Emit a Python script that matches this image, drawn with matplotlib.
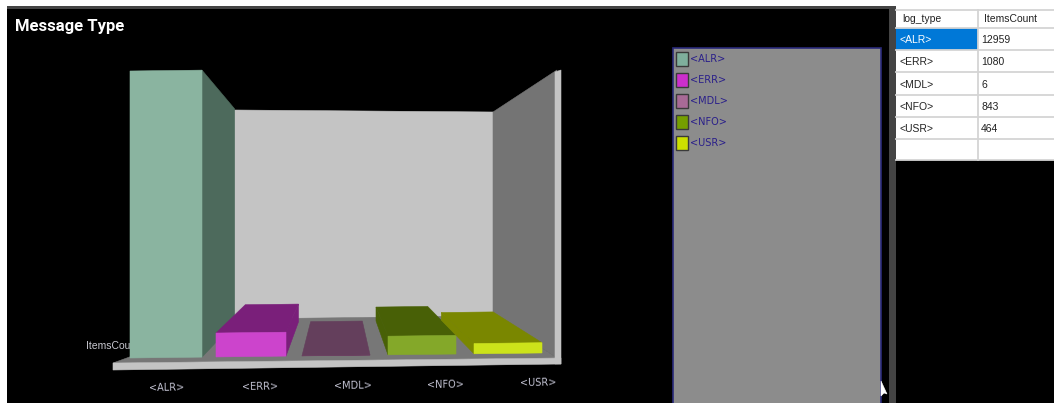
import matplotlib
matplotlib.use("Agg")

import matplotlib.pyplot as plt
from matplotlib.patches import Polygon, Rectangle

log_types = ["<ALR>", "<ERR>", "<MDL>", "<NFO>", "<USR>"]
items_count = [12959, 1080, 6, 843, 464]

front_colors = ["#8AB4A0", "#CC44CC", "#6A4060", "#84A829", "#CCE31A"]
top_colors = ["#8AB4A0", "#7A1F7A", "#643F5C", "#486006", "#7A8700"]
side_colors = ["#4D6A5C", "#7A1F7A", "#643F5C", "#486006", "#7A8700"]
legend_colors = ["#7FAF9C", "#CC2ECC", "#A86A96", "#759F00", "#CCE000"]

# pseudo-3D layout of the bars, in figure pixels
PX_PER_ITEM = 287 / 12959
BAR_LEFT = 130
BAR_STEP = 86
BAR_WIDTH = 72
BASE_Y = 358
TILT = -0.0122
VANISH_X, VANISH_Y = 338, 222
DEPTH_X, DEPTH_Y = 0.76, 0.745


def project(x, value, back=False):
    """Front-face position of (x, value), pushed to the back plane if asked."""
    y = BASE_Y + TILT * (x - BAR_LEFT) - value * PX_PER_ITEM
    if back:
        x = VANISH_X + (x - VANISH_X) * DEPTH_X
        y = VANISH_Y + (y - VANISH_Y) * DEPTH_Y
    return x, y


def poly(ax, pts, color, z=2):
    # edge in the face colour closes the hairline seams between faces
    ax.add_patch(Polygon(pts, closed=True, facecolor=color, edgecolor=color,
                         linewidth=0.4, zorder=z))


fig = plt.figure(figsize=(10.54, 4.03), dpi=100, facecolor="white")
ax = fig.add_axes([0, 0, 1, 1])
ax.set_xlim(0, 1054)
ax.set_ylim(403, 0)
ax.axis("off")

# window background
ax.add_patch(Rectangle((7, 6), 883, 397, facecolor="black", zorder=0))
ax.add_patch(Rectangle((7, 6), 883, 2.5, facecolor="#444444", zorder=1))
ax.add_patch(Rectangle((889, 6), 6.5, 397, facecolor="#444444", zorder=1))
ax.add_patch(Rectangle((895.5, 160), 159, 243, facecolor="black", zorder=0))

ax.text(15, 27, "Message Type", color="white", fontsize=12, fontweight="bold",
        family="Roboto", ha="left", va="center", zorder=5)

# chart box: back wall, right wall, floor and base slab
poly(ax, [(234, 110), (493, 112), (493, 316), (234, 320)], "#C4C4C4")
poly(ax, [(493, 112), (557, 70), (557, 358), (493, 316)], "#747474")
poly(ax, [(113, 363), (234, 319), (493, 316), (557, 358)], "#777777")
poly(ax, [(555, 72), (561, 70), (561, 364), (555, 364)], "#C4C4C4", z=3)
poly(ax, [(113, 363), (561, 358), (561, 364), (113, 370)], "#C4C4C4", z=3)

ax.text(86, 346, "ItemsCount", color="#C8C8D0", fontsize=7.5, family="Liberation Sans",
        ha="left", va="center", zorder=3)

# bars, each from its count
for i, count in enumerate(items_count):
    x0 = BAR_LEFT + i * BAR_STEP
    x1 = x0 + BAR_WIDTH - min(i, 2) * 2
    z = 4 + i * 0.1
    bl, br = project(x0, 0), project(x1, 0)
    tl, tr = project(x0, count), project(x1, count)
    btl, btr = project(x0, count, True), project(x1, count, True)
    bbl, bbr = project(x0, 0, True), project(x1, 0, True)
    if x1 < VANISH_X:
        poly(ax, [tr, btr, bbr, br], side_colors[i], z)
    elif x0 > VANISH_X:
        poly(ax, [tl, btl, bbl, bl], side_colors[i], z)
    # the top is only visible on bars below eye level
    if btl[1] < tl[1]:
        poly(ax, [tl, btl, btr, tr], top_colors[i], z)
    poly(ax, [bl, tl, tr, br], front_colors[i], z + 0.01)

    ax.text(167 + i * 92.8, 388 - i * 1.25, log_types[i], color="#C4C4D4", fontsize=7,
            family="DejaVu Sans", rotation=0.8, ha="center", va="center", zorder=5)

# legend panel
ax.add_patch(Rectangle((672.5, 47.5), 208.5, 360, facecolor="#8C8C8C", edgecolor="#2A2A7A",
                       linewidth=1.2, zorder=2))
for i, name in enumerate(log_types):
    y = 59 + i * 21
    ax.add_patch(Rectangle((676, y - 7), 12, 14, facecolor=legend_colors[i], edgecolor="#3A3A3A",
                           linewidth=1, zorder=3))
    ax.text(690, y, name, color="#2A1F8A", fontsize=7, family="DejaVu Sans",
            ha="left", va="center", zorder=3)

# mouse pointer
poly(ax, [(881, 381), (881, 396), (884, 393), (887, 394)], "white", z=6)

# data grid on the right
row_edges = [10, 28, 50, 72, 95, 117, 139, 160]
grid_font = {"fontsize": 7.5, "family": "Liberation Sans", "va": "center", "color": "#222222"}
ax.add_patch(Rectangle((896, 28), 82, 22, facecolor="#0078D7", zorder=2))
for y in row_edges:
    ax.plot([896, 1054], [y, y], color="#D4D4D4", lw=1.3, zorder=3)
ax.plot([978, 978], [10, 160], color="#D4D4D4", lw=1.3, zorder=3)
ax.text(902, 19, "log_type", **grid_font)
ax.text(984, 19, "ItemsCount", **grid_font)
for i, (name, count) in enumerate(zip(log_types, items_count)):
    y = (row_edges[i + 1] + row_edges[i + 2]) / 2 + 1
    name_font = dict(grid_font, color="white") if i == 0 else grid_font
    ax.text(899, y, name, **name_font)
    ax.text(981, y, str(count), **grid_font)

fig.savefig("out.png", dpi=100, facecolor=fig.get_facecolor())
